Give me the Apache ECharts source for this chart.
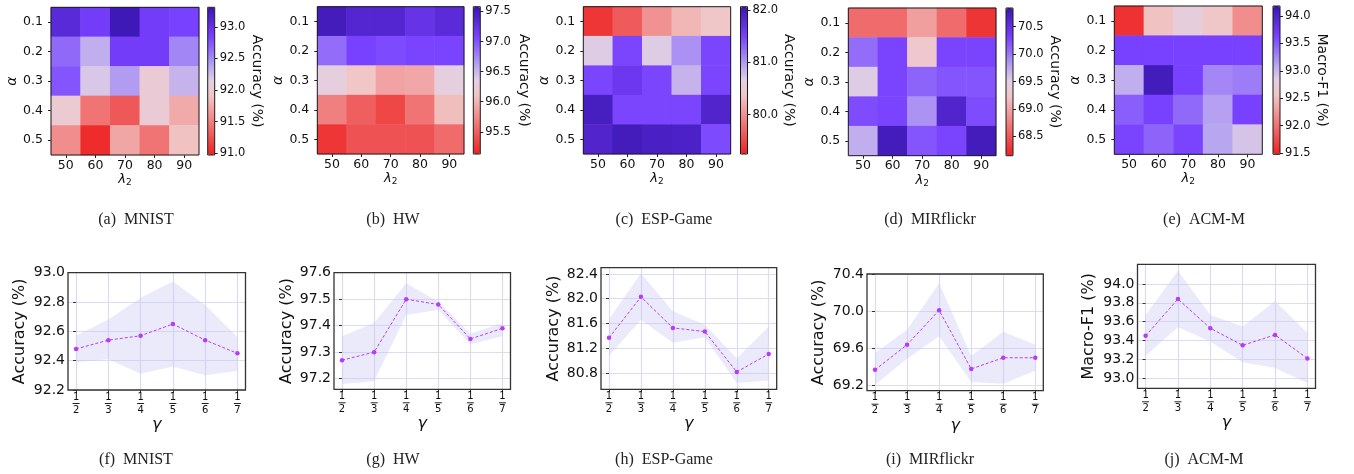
<!DOCTYPE html>
<html><head><meta charset="utf-8">
<script src="https://cdn.jsdelivr.net/npm/echarts@6/dist/echarts.min.js"></script>
<style>html,body{margin:0;padding:0;background:#fff}#c{width:1354px;height:474px}</style>
</head><body><div id="c"></div>
<script>
// ---------- data ----------
const lambdaCats = ['50', '60', '70', '80', '90'];
const alphaCats = ['0.1', '0.2', '0.3', '0.4', '0.5'];
const gammaTickLabels = ['1/2', '1/3', '1/4', '1/5', '1/6', '1/7'];
const gammaPos = [0, 1, 2, 3, 4, 5];

// heatmaps: rows = alpha (0.1..0.5), cols = lambda2 (50..90)
const heatMNIST = [
  [93.08, 92.88, 93.27, 92.88, 92.84],
  [92.65, 92.33, 92.88, 92.88, 92.52],
  [92.75, 92.19, 92.42, 92.02, 92.30],
  [92.00, 91.44, 91.28, 92.02, 91.74],
  [91.58, 91.03, 91.72, 91.44, 91.88]
];
const heatHW = [
  [97.51, 97.38, 97.38, 97.24, 97.33],
  [96.87, 97.09, 97.04, 97.07, 97.07],
  [96.31, 96.11, 95.89, 95.92, 96.31],
  [95.69, 95.50, 95.35, 95.62, 96.06],
  [95.25, 95.42, 95.42, 95.42, 95.57]
];
const heatESP = [
  [79.39, 79.64, 80.01, 80.26, 80.40],
  [80.68, 81.47, 80.68, 81.05, 81.47],
  [81.47, 81.61, 81.47, 80.85, 81.47],
  [81.95, 81.47, 81.47, 81.47, 81.86],
  [81.86, 81.98, 81.92, 81.90, 81.44]
];
const heatMIR = [
  [68.63, 68.63, 68.96, 68.63, 68.28],
  [70.06, 70.28, 69.28, 70.28, 70.28],
  [69.52, 70.28, 70.11, 70.19, 70.19],
  [70.24, 70.28, 69.87, 70.65, 70.24],
  [69.71, 70.76, 70.19, 70.28, 70.76]
];
const heatACM = [
  [91.59, 92.53, 92.75, 92.59, 92.18],
  [93.64, 93.64, 93.64, 93.64, 93.64],
  [93.05, 94.10, 93.64, 93.26, 93.32],
  [93.48, 93.64, 93.42, 93.13, 93.64],
  [93.62, 93.45, 93.62, 93.10, 92.91]
];
// colorbar ranges and ticks
const cbRangeMNIST = [90.97, 93.31], cbTicksMNIST = [91.0, 91.5, 92.0, 92.5, 93.0];
const cbRangeHW = [95.13, 97.58], cbTicksHW = [95.5, 96.0, 96.5, 97.0, 97.5];
const cbRangeESP = [79.25, 82.06], cbTicksESP = [80.0, 81.0, 82.0];
const cbRangeMIR = [68.15, 70.84], cbTicksMIR = [68.5, 69.0, 69.5, 70.0, 70.5];
const cbRangeACM = [91.48, 94.18], cbTicksACM = [91.5, 92.0, 92.5, 93.0, 93.5, 94.0];

// gamma sensitivity: mean, upper and lower band
const gMNIST = [92.48, 92.54, 92.57, 92.65, 92.54, 92.45];
const gMNISTHi = [92.57, 92.68, 92.83, 92.94, 92.78, 92.56];
const gMNISTLo = [92.39, 92.41, 92.31, 92.36, 92.30, 92.33];
const gHW = [97.27, 97.30, 97.50, 97.48, 97.35, 97.39];
const gHWHi = [97.36, 97.41, 97.56, 97.49, 97.37, 97.41];
const gHWLo = [97.18, 97.19, 97.44, 97.46, 97.33, 97.36];
const gESP = [81.37, 82.03, 81.53, 81.47, 80.82, 81.11];
const gESPHi = [81.67, 82.41, 81.80, 81.58, 81.04, 81.55];
const gESPLo = [81.08, 81.66, 81.29, 81.38, 80.64, 80.68];
const gMIR = [69.37, 69.64, 70.01, 69.38, 69.50, 69.50];
const gMIRHi = [69.55, 69.80, 70.30, 69.52, 69.78, 69.64];
const gMIRLo = [69.21, 69.49, 69.73, 69.24, 69.22, 69.36];
const gACM = [93.45, 93.84, 93.53, 93.35, 93.46, 93.21];
const gACMHi = [93.67, 94.14, 93.67, 93.55, 93.82, 93.48];
const gACMLo = [93.24, 93.54, 93.39, 93.17, 93.11, 92.95];
const lineRangeMNIST = [92.2, 93.0], lineTicksMNIST = [92.2, 92.4, 92.6, 92.8, 93.0];
const lineRangeHW = [97.16, 97.6], lineTicksHW = [97.2, 97.3, 97.4, 97.5, 97.6];
const lineRangeESP = [80.54, 82.50], lineTicksESP = [80.8, 81.2, 81.6, 82.0, 82.4];
const lineRangeMIR = [69.146, 70.4], lineTicksMIR = [69.2, 69.6, 70.0, 70.4];
const lineRangeACM = [92.894, 94.208], lineTicksACM = [93.0, 93.2, 93.4, 93.6, 93.8, 94.0];

// ---------- layout / style ----------
const SANS = 'DejaVu Sans';
const SERIF = 'Liberation Serif';
const cmap = ['#ee2222', '#ef4a4a', '#f07474', '#f19e9e', '#f1c6c6', '#e2d0e4',
              '#b9a6f0', '#9672f8', '#7840ff', '#5a2ad8', '#3a16b0'];

const heatPanels = [
  {data: heatMNIST, range: cbRangeMNIST, ticks: cbTicksMNIST, name: 'Accuracy (%)', L: 51, T: 7.3, W: 148, H: 147.7, cbL: 207.7, cbGap: 33, cap: '(a)  MNIST', capX: 136},
  {data: heatHW, range: cbRangeHW, ticks: cbTicksHW, name: 'Accuracy (%)', L: 317.3, T: 6.7, W: 146.7, H: 147.3, cbL: 473.3, cbGap: 36, cap: '(b)  HW', capX: 393},
  {data: heatESP, range: cbRangeESP, ticks: cbTicksESP, name: 'Accuracy (%)', L: 583.3, T: 6.7, W: 147.4, H: 147.3, cbL: 740.5, cbGap: 32, cap: '(c)  ESP-Game', capX: 664},
  {data: heatMIR, range: cbRangeMIR, ticks: cbTicksMIR, name: 'Accuracy (%)', L: 848.3, T: 8, W: 147.7, H: 147.7, cbL: 1006, cbGap: 31, cap: '(d)  MIRflickr', capX: 930},
  {data: heatACM, range: cbRangeACM, ticks: cbTicksACM, name: 'Macro-F1 (%)', L: 1114.3, T: 6, W: 148, H: 148.3, cbL: 1273, cbGap: 35, cap: '(e)  ACM-M', capX: 1204}
];
const linePanels = [
  {mean: gMNIST, hi: gMNISTHi, lo: gMNISTLo, range: lineRangeMNIST, ticks: lineTicksMNIST, name: 'Accuracy (%)', L: 68, T: 272.7, W: 177.5, H: 117.3, gap: 40, cap: '(f)  MNIST', capX: 136},
  {mean: gHW, hi: gHWHi, lo: gHWLo, range: lineRangeHW, ticks: lineTicksHW, name: 'Accuracy (%)', L: 334, T: 272.7, W: 176.5, H: 116.6, gap: 39, cap: '(g)  HW', capX: 393},
  {mean: gESP, hi: gESPHi, lo: gESPLo, range: lineRangeESP, ticks: lineTicksESP, name: 'Accuracy (%)', L: 601, T: 267.7, W: 175.7, H: 121.6, gap: 39, cap: '(h)  ESP-Game', capX: 664},
  {mean: gMIR, hi: gMIRHi, lo: gMIRLo, range: lineRangeMIR, ticks: lineTicksMIR, name: 'Accuracy (%)', L: 867, T: 274, W: 176.3, H: 116.7, gap: 40, cap: '(i)  MIRflickr', capX: 930},
  {mean: gACM, hi: gACMHi, lo: gACMLo, range: lineRangeACM, ticks: lineTicksACM, name: 'Macro-F1 (%)', L: 1137.5, T: 264.3, W: 178, H: 124, gap: 41, cap: '(j)  ACM-M', capX: 1204}
];

const grid = [], xAxis = [], yAxis = [], series = [], visualMap = [], graphic = [];

heatPanels.forEach((p) => {
  const gi = grid.length;
  grid.push({left: p.L, top: p.T, width: p.W, height: p.H, show: true, borderColor: '#1a1a1a', borderWidth: 1, backgroundColor: 'transparent', z: 5});
  xAxis.push({type: 'category', gridIndex: gi, data: lambdaCats,
    axisLine: {show: false}, axisTick: {show: true, alignWithLabel: true, length: 3, lineStyle: {color: '#222'}},
    axisLabel: {fontFamily: SANS, fontSize: 12.5, color: '#111', margin: 4},
    splitLine: {show: false},
    name: '{a|λ}{b|2}', nameLocation: 'middle', nameGap: 17,
    nameTextStyle: {rich: {a: {fontFamily: SANS, fontStyle: 'italic', fontSize: 13, color: '#111'}, b: {fontFamily: SANS, fontSize: 9, color: '#111', padding: [6, 0, 0, 0]}}}});
  yAxis.push({type: 'category', gridIndex: gi, data: alphaCats, inverse: true,
    axisLine: {show: false}, axisTick: {show: true, alignWithLabel: true, length: 3, lineStyle: {color: '#222'}},
    axisLabel: {fontFamily: SANS, fontSize: 12.5, color: '#111', margin: 8},
    splitLine: {show: false},
    name: 'α', nameLocation: 'middle', nameGap: 30, nameRotate: 90,
    nameTextStyle: {fontFamily: SANS, fontStyle: 'italic', fontSize: 14, color: '#111'}});
  const si = series.length;
  const cells = [];
  p.data.forEach((row, r) => row.forEach((v, c) => cells.push([c, r, v])));
  series.push({type: 'heatmap', xAxisIndex: gi, yAxisIndex: gi, data: cells, emphasis: {disabled: true}, silent: true});
  visualMap.push({type: 'continuous', seriesIndex: si, min: p.range[0], max: p.range[1],
    left: p.cbL, top: p.T, itemWidth: 7, itemHeight: p.H, padding: 0, calculable: false,
    text: null, showLabel: false, hoverLink: false, inRange: {color: cmap}});
  const ci = grid.length;
  grid.push({left: p.cbL, top: p.T, width: 7, height: p.H, show: true, borderColor: '#1a1a1a', borderWidth: 1, backgroundColor: 'transparent', z: 10});
  xAxis.push({type: 'category', gridIndex: ci, data: [''], show: false});
  yAxis.push({type: 'value', gridIndex: ci, position: 'right', min: p.range[0], max: p.range[1],
    axisLine: {show: false}, splitLine: {show: false},
    axisTick: {show: true, length: 3, customValues: p.ticks, lineStyle: {color: '#222'}},
    axisLabel: {customValues: p.ticks, formatter: (v) => v.toFixed(1), fontFamily: SANS, fontSize: 11.5, color: '#111', margin: 5},
    name: p.name, nameLocation: 'middle', nameRotate: -90, nameGap: p.cbGap,
    nameTextStyle: {fontFamily: SANS, fontSize: 14, color: '#111'}});
  graphic.push({type: 'text', x: p.capX, y: 220, style: {text: p.cap, font: '16px "' + SERIF + '"', fill: '#222', textAlign: 'center', textVerticalAlign: 'middle'}});
});

function fracLabel(v) {
  const i = gammaPos.indexOf(v);
  if (i < 0) return '';
  const parts = gammaTickLabels[i].split('/');
  return '{n|' + parts[0] + '}\n{l|}\n{d|' + parts[1] + '}';
}

linePanels.forEach((p) => {
  const gi = grid.length;
  grid.push({left: p.L, top: p.T, width: p.W, height: p.H, show: true, borderColor: '#333', borderWidth: 1.3, backgroundColor: 'transparent', z: 5});
  xAxis.push({type: 'value', gridIndex: gi, min: -0.25, max: 5.25,
    axisLine: {show: false},
    axisTick: {show: true, length: 3, customValues: gammaPos, lineStyle: {color: '#333'}},
    axisLabel: {customValues: gammaPos, formatter: fracLabel, margin: 2, color: '#111',
      rich: {n: {fontFamily: SANS, fontSize: 10, lineHeight: 10, color: '#111'},
             l: {width: 7, height: 1, lineHeight: 3, backgroundColor: '#222'},
             d: {fontFamily: SANS, fontSize: 10, lineHeight: 10, color: '#111'}}},
    splitLine: {show: true, lineStyle: {color: '#dcdcef', width: 1.2}},
    name: 'γ', nameLocation: 'middle', nameGap: 27,
    nameTextStyle: {fontFamily: SANS, fontStyle: 'italic', fontSize: 16, color: '#111'}});
  yAxis.push({type: 'value', gridIndex: gi, min: p.range[0], max: p.range[1],
    axisLine: {show: false},
    axisTick: {show: true, length: 3, customValues: p.ticks, lineStyle: {color: '#333'}},
    axisLabel: {customValues: p.ticks, formatter: (v) => v.toFixed(1), fontFamily: SANS, fontSize: 14, color: '#111', margin: 3},
    splitLine: {show: true, lineStyle: {color: '#dcdcef', width: 1.2}},
    name: p.name, nameLocation: 'middle', nameRotate: 90, nameGap: p.gap,
    nameTextStyle: {fontFamily: SANS, fontSize: 16, color: '#111'}});
  // shaded band between lower and upper values, drawn through the axis scales
  const hi = p.hi, lo = p.lo;
  series.push({type: 'custom', coordinateSystem: 'cartesian2d', xAxisIndex: gi, yAxisIndex: gi, silent: true, z: 1,
    data: gammaPos.map((x, i) => [x, hi[i], lo[i]]),
    encode: {x: 0, y: [1, 2]},
    renderItem: (params, api) => {
      if (params.dataIndex !== 0) return null;
      const pts = [];
      for (let i = 0; i < gammaPos.length; i++) pts.push(api.coord([gammaPos[i], hi[i]]));
      for (let i = gammaPos.length - 1; i >= 0; i--) pts.push(api.coord([gammaPos[i], lo[i]]));
      return {type: 'polygon', shape: {points: pts}, style: {fill: 'rgba(200,196,245,0.36)', stroke: 'none'}};
    }});
  series.push({type: 'line', xAxisIndex: gi, yAxisIndex: gi, symbol: 'circle', symbolSize: 4.5, silent: true,
    itemStyle: {color: '#b83cf6'}, lineStyle: {color: '#b83cf6', width: 1, type: [3, 2]},
    data: gammaPos.map((x, i) => [x, p.mean[i]]), z: 3});
  graphic.push({type: 'text', x: p.capX, y: 460, style: {text: p.cap, font: '16px "' + SERIF + '"', fill: '#222', textAlign: 'center', textVerticalAlign: 'middle'}});
});

const chart = echarts.init(document.getElementById('c'), null, {renderer: 'canvas'});
chart.setOption({animation: false, backgroundColor: '#fff', grid, xAxis, yAxis, series, visualMap, graphic});
</script></body></html>
